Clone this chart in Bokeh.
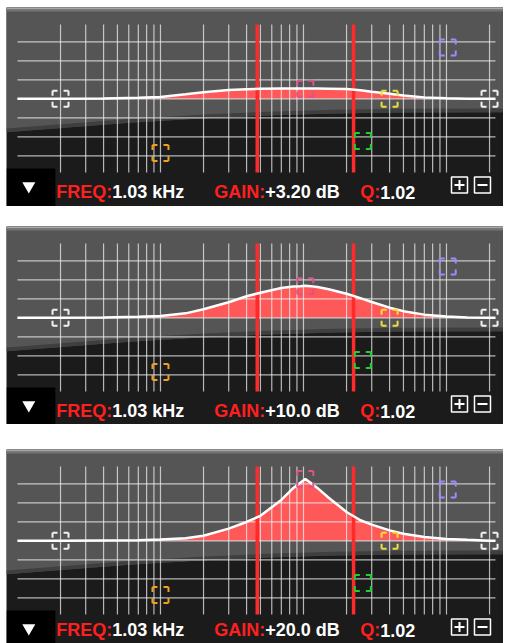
from bokeh.plotting import figure
from bokeh.layouts import column, row
from bokeh.models import Range1d, Spacer
from bokeh.core.properties import value
from bokeh.embed import file_html
from bokeh.resources import INLINE

# ---------------- data ----------------
freqs = [10, 20, 40, 70, 100, 150, 200, 300, 400, 500, 700, 850, 950, 1030, 1120,
         1250, 1500, 2000, 2500, 3000, 4000, 5000, 7000, 10000, 14000, 20000, 22000]
gain_p1 = [0, 0, 0.06, 0.3, 0.6, 1.4, 2.05, 2.8, 3.05, 3.15, 3.25, 3.25, 3.25, 3.25, 3.25,
           3.25, 3.2, 3.1, 2.7, 2.2, 1.6, 1.05, 0.45, 0.15, 0, 0, 0]
gain_p2 = [0, 0, 0.1, 0.3, 0.6, 1.4, 2.7, 4.9, 6.8, 7.9, 9.4, 9.9, 10.0, 10.1, 10.0,
           9.7, 9.0, 7.6, 6.2, 5.0, 3.2, 2.1, 1.0, 0.4, 0.1, 0, 0]
gain_p3 = [0, 0, 0.1, 0.2, 0.4, 0.8, 1.6, 3.85, 5.95, 7.9, 12.9, 16.7, 18.3, 19.5, 18.3,
           16.7, 13.6, 9.1, 6.5, 5.1, 3.3, 2.2, 1.2, 0.6, 0.3, 0, 0]
peak_gains = [3.2, 10.0, 19.5]
gain_texts = ["+3.20 dB", "+10.0 dB", "+20.0 dB"]
freq_text = "1.03 kHz"
q_text = "1.02"
param_labels = ["FREQ:", "GAIN:", "Q:"]

grid_freqs = [20, 30, 40, 50, 60, 70, 80, 90, 100, 200, 300, 400, 500, 600, 700, 800, 900,
              1000, 2000, 3000, 4000, 5000, 6000, 7000, 8000, 9000, 10000, 20000]
grid_db = [-18, -12, -6, 0, 6, 12, 18]
bandwidth_freqs = [475, 2240]

band_freqs = [20, 100, 1030, 2600, 4000, 10200, 20000]
band_gains_other = [0, -17.1, None, -13.3, 0, 16.2, 0]
band_colors = ["#f2f2f2", "#f0a020", "#e0508c", "#20d030", "#ecdf40", "#9c8cff", "#f2f2f2"]

# ---------------- layout / style constants ----------------
PX_PER_DB = 19 / 6.0
ZERO_ROW = 91.3          # px from panel top to 0 dB
F_LEFT, F_RIGHT = 8.38, 25040
W = 497
FONT = value("Liberation Sans")


def row_db(px):
    return (ZERO_ROW - px) / PX_PER_DB


shade_f = [F_LEFT, 22.4, 64.7, 190, 560, 1621, 4764, F_RIGHT]
shade_rows = [124.7, 120, 115, 111, 108, 106, 105, 104.7]

# text anchor frequencies (label ends / value starts)
text_anchor_f = [46.0, 540.0, 3440.0]


def make_panel(gain, peak, gain_text, height, text_row):
    top = row_db(0)
    bottom = row_db(height)
    p = figure(width=W, height=height, x_axis_type="log",
               x_range=Range1d(F_LEFT, F_RIGHT), y_range=Range1d(bottom, top),
               output_backend="svg", toolbar_location=None, min_border=0,
               x_axis_location=None, y_axis_location=None)
    p.grid.visible = False
    p.outline_line_color = None
    p.background_fill_color = "#1b1b1b"
    p.border_fill_color = "#1b1b1b"

    # gray glass area + top bevel
    shade_db = [row_db(r) for r in shade_rows]
    p.varea(x=shade_f, y1=shade_db, y2=[top] * len(shade_f), fill_color="#555555")
    p.varea(x=shade_f, y1=shade_db, y2=[d + 1.2 for d in shade_db], fill_color="#3a3a3a", fill_alpha=0.8)
    p.quad(left=[F_LEFT], right=[F_RIGHT], top=[top], bottom=[row_db(2)], fill_color="#a8a8a8", line_color=None)
    p.quad(left=[F_LEFT], right=[F_RIGHT], top=[row_db(2)], bottom=[row_db(4)], fill_color="#747474", line_color=None)

    # black box bottom-left
    p.quad(left=[F_LEFT], right=[18.4], top=[row_db(161)], bottom=[row_db(199)],
           fill_color="#000000", line_color=None)

    # filled response
    p.varea(x=freqs, y1=[0] * len(freqs), y2=gain, fill_color="#ff5858", fill_alpha=1.0)

    # grid
    vt, vb = row_db(17), row_db(165)
    p.segment(x0=grid_freqs, x1=grid_freqs, y0=[vb] * len(grid_freqs), y1=[vt] * len(grid_freqs),
              line_color="#ececec", line_alpha=0.75, line_width=1.2)
    p.segment(x0=[10] * len(grid_db), x1=[22000] * len(grid_db), y0=grid_db, y1=grid_db,
              line_color="#ececec", line_alpha=0.75, line_width=1.2)

    # bandwidth markers
    p.segment(x0=bandwidth_freqs, x1=bandwidth_freqs, y0=[vb] * 2, y1=[vt] * 2,
              line_color="#ff2a2a", line_width=3.5)

    # response curve
    p.line(freqs, gain, line_color="white", line_width=2.5)

    # band handles
    gains = [peak if g is None else g for g in band_gains_other]
    p.scatter(band_freqs, gains, marker="square", size=16, fill_alpha=0,
              line_color=band_colors, line_width=2, line_dash="5 6 5 0")

    # bottom bar
    p.scatter([12.0], [row_db(178.5)], marker="inverted_triangle", size=13,
              fill_color="white", line_color=None)
    ytxt = row_db(text_row)
    p.text(x=text_anchor_f, y=[ytxt] * 3, text=param_labels,
           text_color="#ff1f1f", text_font=FONT, text_font_size="18px",
           text_font_style="bold", text_baseline="alphabetic", text_align="right")
    p.text(x=text_anchor_f, y=[ytxt] * 3, text=[freq_text, gain_text, q_text],
           text_color="white", text_font=FONT, text_font_size="18px",
           text_font_style="bold", text_baseline="alphabetic", text_align="left")
    yb = row_db(177.5)
    p.scatter([12330, 17850], [yb, yb], marker="square", size=16, fill_alpha=0,
              line_color="white", line_width=1.5)
    p.scatter([12330], [yb], marker="cross", size=10, line_color="white", line_width=2)
    p.scatter([17850], [yb], marker="dash", size=10, line_color="white", line_width=2)
    return p


p1 = make_panel(gain_p1, peak_gains[0], gain_texts[0], 199, 184.5)
p2 = make_panel(gain_p2, peak_gains[1], gain_texts[1], 198, 184.5)
p3 = make_panel(gain_p3, peak_gains[2], gain_texts[2], 194, 180.5)

stack = column(Spacer(height=7), p1, Spacer(height=20), p2, Spacer(height=25), p3)
layout = row(Spacer(width=6), stack)
open("out.html", "w").write(file_html(layout, INLINE))
